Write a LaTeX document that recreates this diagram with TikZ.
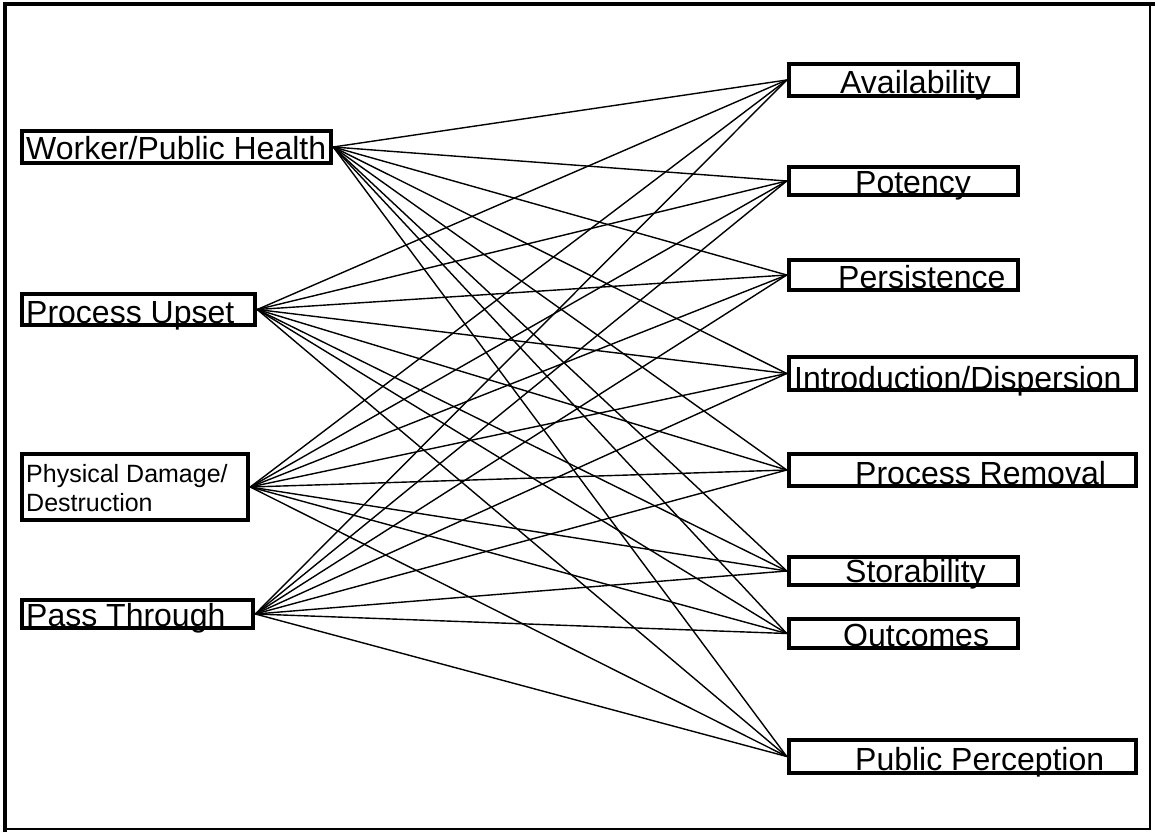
\documentclass[tikz,border=0pt]{standalone}
\usepackage{fontspec}
\setmainfont{Liberation Sans}
\begin{document}
\begin{tikzpicture}[x=1pt,y=-1pt,
  boxst/.style={draw, line width=4.5pt, inner sep=0pt, rectangle},
  lab/.style={anchor=base west, inner sep=0pt, font=\fontsize{32}{36}\selectfont},
  slab/.style={anchor=base west, inner sep=0pt, font=\fontsize{25}{29}\selectfont},
  conn/.style={line width=1.4pt}]
\useasboundingbox (0,0) rectangle (1155,832);
% frame
\draw[line width=4.5pt] (5,832) -- (5,4) -- (1155,4);
\draw[line width=2pt] (1150,4) -- (1150,829) -- (5,829);
% left boxes
\node[boxst, minimum width=309pt, minimum height=32pt] (wph) at (176.5,147) {};
\node[boxst, minimum width=233pt, minimum height=31pt] (pu) at (138.5,309.5) {};
\node[boxst, minimum width=226pt, minimum height=66pt] (pdd) at (135,487) {};
\node[boxst, minimum width=231pt, minimum height=28pt] (pt) at (137.5,614) {};
% right boxes
\node[boxst, minimum width=229pt, minimum height=32pt] (av) at (903.5,80) {};
\node[boxst, minimum width=229pt, minimum height=28pt] (po) at (903.5,181) {};
\node[boxst, minimum width=229pt, minimum height=30pt] (pe) at (903.5,275) {};
\node[boxst, minimum width=347pt, minimum height=33pt] (id) at (962.5,373.5) {};
\node[boxst, minimum width=347pt, minimum height=32pt] (pr) at (962.5,470) {};
\node[boxst, minimum width=229pt, minimum height=28pt] (st) at (903.5,571) {};
\node[boxst, minimum width=229pt, minimum height=29pt] (ou) at (903.5,633.5) {};
\node[boxst, minimum width=347pt, minimum height=33pt] (pp) at (962.5,756.5) {};
% labels
\node[lab] (twph) at (26,159) {Worker/Public Health};
\node[lab] (tpu) at (26,323) {Process Upset};
\node[slab] (tpdd1) at (26,482) {Physical Damage/};
\node[slab] (tpdd2) at (26,511) {Destruction};
\node[lab] (tpt) at (26,626) {Pass Through};
\node[lab] (tav) at (840,94) {Availability};
\node[lab] (tpo) at (855,193) {Potency};
\node[lab] (tpe) at (838,288) {Persistence};
\node[lab] (tid) at (794,389) {Introduction/Dispersion};
\node[lab] (tpr) at (855,484) {Process Removal};
\node[lab] (tst) at (845,582) {Storability};
\node[lab] (tou) at (843,646) {Outcomes};
\node[lab] (tpp) at (855,770) {Public Perception};
% connectors
\foreach \s in {wph,pu,pdd,pt}{
  \foreach \t in {av,po,pe,id,pr,st,ou,pp}{
    \draw[conn] (\s.east) -- (\t.west);
  }
}
\end{tikzpicture}
\end{document}
